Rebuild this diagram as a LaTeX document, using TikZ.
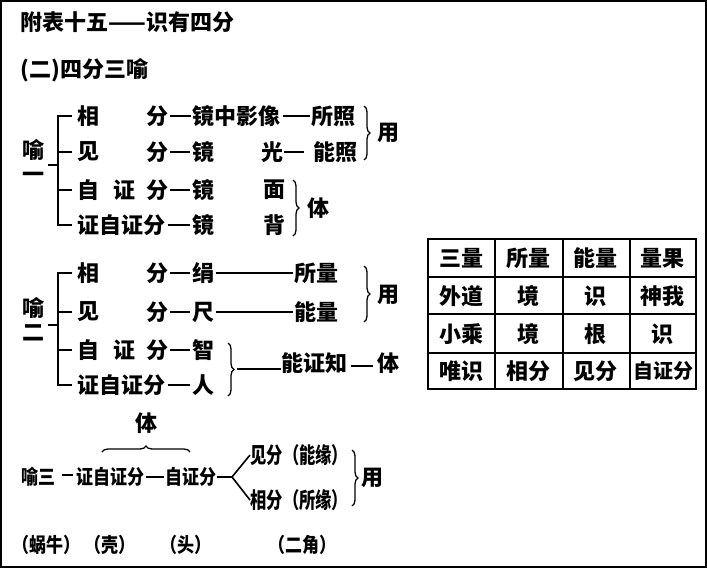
\documentclass[tikz,border=0pt]{standalone}
\usepackage{fontspec}
\setmainfont{Noto Sans CJK SC}
\usetikzlibrary{decorations.pathreplacing}
\newcommand{\zh}{\fontsize{22}{22}\selectfont\bfseries}
\newcommand{\zs}{\fontsize{20}{20}\selectfont\bfseries}

\begin{document}
\begin{tikzpicture}[x=1pt, y=-1pt, line width=1.6pt,
    zi/.style={inner sep=0pt, font=\zh},
    zw/.style={zi, anchor=west},
    zn/.style={zw, font=\zs, xscale=0.85},
    brc/.style={decorate, decoration={brace, amplitude=6pt}, line width=1.3pt},
    link/.style={shorten <=1pt, shorten >=1pt}]
    \useasboundingbox (0,0) rectangle (707,568);
    \draw[line width=2pt] (1,1) rectangle (706,567);
    \node[zw] (title) at (20,22) {附表十五——识有四分};
    \node[zw] (sub) at (20,70) {(二)四分三喻};
    % yu yi
    \node[zi] (y1a) at (33,150) {喻};
    \node[zi] (y1b) at (33,177) {一};
    \draw (48,165) -- (58,165);
    \draw (72,116) -- (58,116) -- (58,225) -- (72,225);
    \draw (58,152) -- (72,152);
    \draw (58,190) -- (72,190);
    \node[zi] (r1a) at (88,116) {相};
    \node[zi] (r1b) at (157,116) {分};
    \node[zw] (r1c) at (192,116) {镜中影像};
    \node[zw] (r1d) at (311,116) {所照};
    \draw[link] (r1b) -- (r1c);
    \draw[link] (r1c) -- (r1d);
    \node[zi] (r2a) at (88,152) {见};
    \node[zi] (r2b) at (157,152) {分};
    \node[zi] (r2c) at (203,152) {镜};
    \node[zi] (r2d) at (272,152) {光};
    \node[zw] (r2e) at (313,152) {能照};
    \draw[link] (r2b) -- (r2c);
    \draw (r2d.east) -- ++(20,0);
    \node[zi] (r3a) at (88,190) {自};
    \node[zi] (r3b) at (124,190) {证};
    \node[zi] (r3c) at (157,190) {分};
    \node[zi] (r3d) at (203,190) {镜};
    \node[zi] (r3e) at (274,190) {面};
    \draw[link] (r3c) -- (r3d);
    \node[zw] (r4a) at (77,225) {证自证分};
    \node[zi] (r4b) at (203,225) {镜};
    \node[zi] (r4c) at (274,225) {背};
    \draw[link] (r4a) -- (r4b);
    \draw[brc] (364,106) -- (364,160);
    \node[zi] (yong1) at (388,133) {用};
    \draw[brc] (293,180) -- (293,236);
    \node[zi] (ti1) at (318,208) {体};
    % yu er
    \node[zi] (y2a) at (33,308) {喻};
    \node[zi] (y2b) at (33,333) {二};
    \draw (48,325) -- (58,325);
    \draw (72,273) -- (58,273) -- (58,385) -- (72,385);
    \draw (58,312) -- (72,312);
    \draw (58,350) -- (72,350);
    \node[zi] (s1a) at (88,273) {相};
    \node[zi] (s1b) at (157,273) {分};
    \node[zi] (s1c) at (203,273) {绢};
    \node[zw] (s1d) at (294,273) {所量};
    \draw[link] (s1b) -- (s1c);
    \draw[link] (s1c) -- (s1d);
    \node[zi] (s2a) at (88,312) {见};
    \node[zi] (s2b) at (157,312) {分};
    \node[zi] (s2c) at (203,312) {尺};
    \node[zw] (s2d) at (294,312) {能量};
    \draw[link] (s2b) -- (s2c);
    \draw[link] (s2c) -- (s2d);
    \node[zi] (s3a) at (88,350) {自};
    \node[zi] (s3b) at (124,350) {证};
    \node[zi] (s3c) at (157,350) {分};
    \node[zi] (s3d) at (203,350) {智};
    \draw[link] (s3c) -- (s3d);
    \node[zw] (s4a) at (77,385) {证自证分};
    \node[zi] (s4b) at (203,385) {人};
    \draw[link] (s4a) -- (s4b);
    \draw[brc] (364,266) -- (364,322);
    \node[zi] (yong2) at (388,295) {用};
    \draw[brc] (228,343) -- (228,396);
    \coordinate (b2) at (237,369);
    \node[zw] (nzz) at (281,363) {能证知};
    \node[zi] (ti2) at (388,363) {体};
    \draw (b2) -- (nzz.west |- b2);
    \draw (nzz.east) ++(2,3) -- ++(22,0);
    % yu san
    \node[zn] (y3) at (21,477) {喻三};
    \node[zn] (z1) at (76,477) {证自证分};
    \node[zn] (z2) at (165,477) {自证分};
    \draw (62,475) -- (73,475);
    \draw[link] (z1) -- (z2);
    \coordinate (fork) at (232,477);
    \draw (z2.east) -- (fork);
    \node[zw, xscale=0.74] (jf) at (250,455) {见分（能缘）};
    \node[zw, xscale=0.74] (xf) at (250,500) {相分（所缘）};
    \draw (jf.west) -- (fork) -- (xf.west);
    \draw[brc] (352,450) -- (352,506);
    \node[zi] (yong3) at (372,478) {用};
    \draw[brc] (102,452) -- (190,452);
    \node[zi] (ti3) at (146,423) {体};
    % bottom
    \node[zn] (w1) at (12,545) {（蜗牛）};
    \node[zn] (w2) at (84,545) {（壳）};
    \node[zn] (w3) at (160,545) {（头）};
    \node[zn] (w4) at (268,545) {（二角）};
    % table
    \draw[line width=2pt] (428,239) rectangle (696,389);
    \foreach \xx in {495,563,630} \draw[line width=2pt] (\xx,239) -- (\xx,389);
    \foreach \yy in {277,314,353} \draw[line width=2pt] (428,\yy) -- (696,\yy);
    \foreach \txt [count=\i from 0] in {三量,所量,能量,量果} {
        \node[zi] (h\i) at (461.5+67*\i,258) {\txt};
    }
    \foreach \txt [count=\i from 0] in {外道,境,识,神我} {
        \node[zi] (p\i) at (461.5+67*\i,296) {\txt};
    }
    \foreach \txt [count=\i from 0] in {小乘,境,根,识} {
        \node[zi] (q\i) at (461.5+67*\i,334) {\txt};
    }
    \foreach \txt [count=\i from 0] in {唯识,相分,见分} {
        \node[zi] (u\i) at (461.5+67*\i,371) {\txt};
    }
    \node[zi, font=\zs] (u3) at (663,371) {自证分};
\end{tikzpicture}
\end{document}
